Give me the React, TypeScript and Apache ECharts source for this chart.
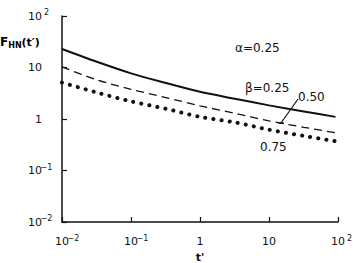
import React, { useEffect, useRef } from 'react';
import * as echarts from 'echarts';

// time t' (log scale), read at roughly half-decade steps
const times = [0.01, 0.032, 0.1, 0.32, 1, 3.2, 10, 32, 92];
// F_HN(t') for alpha = 0.25
const beta025 = [22.9, 12.9, 7.7, 5.0, 3.37, 2.48, 1.84, 1.4, 1.1];
const beta050 = [10.3, 5.75, 3.77, 2.61, 1.8, 1.29, 0.92, 0.69, 0.54];
const beta075 = [5.1, 3.27, 2.2, 1.58, 1.1, 0.86, 0.62, 0.47, 0.37];

const xTickValues = [0.01, 0.1, 1, 10, 100];
const yTickValues = [0.01, 0.1, 1, 10, 100];

const FONT = 'DejaVu Sans';
const INK = '#111';

function expOf(v: number) {
  return Math.round(Math.log10(v));
}

function xLabel(v: number) {
  const e = expOf(v);
  if (e === 0) return '{b|1}';
  if (e === 1) return '{b|10}';
  const s = e < 0 ? '−' + Math.abs(e) : String(e);
  return `{p|}{b|10}{s|${s}}`;
}

function yLabel(v: number) {
  const e = expOf(v);
  if (e === 0) return '{b|1}{e| }';
  if (e === 1) return '{b|10}{e| }';
  const s = e < 0 ? '−' + Math.abs(e) : String(e);
  return `{b|10}{s|${s}}`;
}

const richBase = {
  b: { fontFamily: FONT, fontSize: 11, color: INK, lineHeight: 15 },
  s: { fontFamily: FONT, fontSize: 8, color: INK, lineHeight: 9, verticalAlign: 'top' as const, width: 9, align: 'left' as const },
  p: { width: 9 },
  e: { width: 9, fontSize: 8 },
};

export default function App() {
  const ref = useRef<HTMLDivElement>(null);
  useEffect(() => {
    if (!ref.current) return;
    const chart = echarts.init(ref.current, null, { renderer: 'svg' });
    const mk = (arr: number[]) => times.map((t, i) => [t, arr[i]]);
    chart.setOption({
      animation: false,
      backgroundColor: '#fff',
      grid: { left: 62, right: 15, top: 16, bottom: 41, containLabel: false, outerBoundsMode: 'none' },
      xAxis: {
        type: 'log',
        logBase: 10,
        min: xTickValues[0],
        max: xTickValues[xTickValues.length - 1],
        axisLine: { show: true, onZero: false, lineStyle: { color: INK, width: 1.5 } },
        axisTick: { show: true, inside: true, length: 5, lineStyle: { color: INK, width: 1.2 } },
        minorTick: { show: false },
        splitLine: { show: false },
        axisLabel: {
          margin: 12,
          formatter: (v: number) => xLabel(v),
          rich: richBase,
          showMinLabel: true,
          showMaxLabel: true,
        },
        name: "t'",
        nameLocation: 'middle',
        nameGap: 28,
        nameTextStyle: { fontFamily: FONT, fontSize: 11, fontWeight: 'bold', color: INK },
      },
      yAxis: {
        type: 'log',
        logBase: 10,
        min: yTickValues[0],
        max: yTickValues[yTickValues.length - 1],
        axisLine: { show: true, onZero: false, lineStyle: { color: INK, width: 1.5 } },
        axisTick: { show: true, inside: true, length: 5, lineStyle: { color: INK, width: 1.2 } },
        minorTick: { show: false },
        splitLine: { show: false },
        axisLabel: {
          margin: 11,
          formatter: (v: number) => yLabel(v),
          rich: richBase,
          showMinLabel: true,
          showMaxLabel: true,
        },
      },
      series: [
        {
          name: 'β=0.25',
          type: 'line',
          data: mk(beta025),
          smooth: 0.3,
          symbol: 'none',
          lineStyle: { color: INK, width: 2 },
        },
        {
          name: 'β=0.50',
          type: 'line',
          data: mk(beta050),
          smooth: 0.3,
          symbol: 'none',
          lineStyle: { color: INK, width: 1.3, type: [8, 5] },
        },
        {
          name: 'β=0.75',
          type: 'line',
          data: mk(beta075),
          smooth: 0.3,
          symbol: 'none',
          lineStyle: { color: INK, width: 4, type: [0.1, 8.1], cap: 'round' },
        },
      ],
      graphic: [
        {
          type: 'text',
          left: 0,
          top: 36,
          style: {
            text: '{f|F}{sub|HN}{p|(t′)}',
            rich: {
              f: { fontFamily: FONT, fontSize: 12, fontWeight: 'bold', color: INK, lineHeight: 14 },
              sub: { fontFamily: FONT, fontSize: 8, fontWeight: 'bold', color: INK, verticalAlign: 'bottom', lineHeight: 9 },
              p: { fontFamily: FONT, fontSize: 11, fontWeight: 'bold', color: INK, lineHeight: 14 },
            },
          },
        },
        { type: 'text', x: 235, y: 48, style: { text: 'α=0.25', fontFamily: FONT, fontSize: 12, fill: INK, verticalAlign: 'middle' } },
        { type: 'text', x: 245, y: 88, style: { text: 'β=0.25', fontFamily: FONT, fontSize: 12, fill: INK, verticalAlign: 'middle' } },
        { type: 'text', x: 298, y: 97, style: { text: '0.50', fontFamily: FONT, fontSize: 12, fill: INK, verticalAlign: 'middle' } },
        { type: 'text', x: 260, y: 147, style: { text: '0.75', fontFamily: FONT, fontSize: 12, fill: INK, verticalAlign: 'middle' } },
        { type: 'line', shape: { x1: 281, y1: 123, x2: 298, y2: 99 }, style: { stroke: INK, lineWidth: 1.2 } },
        { type: 'line', shape: { x1: 278, y1: 123, x2: 284, y2: 123 }, style: { stroke: INK, lineWidth: 1.2 } },
      ],
    });
    return () => chart.dispose();
  }, []);
  return (
    <div
      ref={ref}
      style={{ position: 'fixed', left: 0, top: 0, width: 353, height: 263, background: '#fff' }}
    />
  );
}
